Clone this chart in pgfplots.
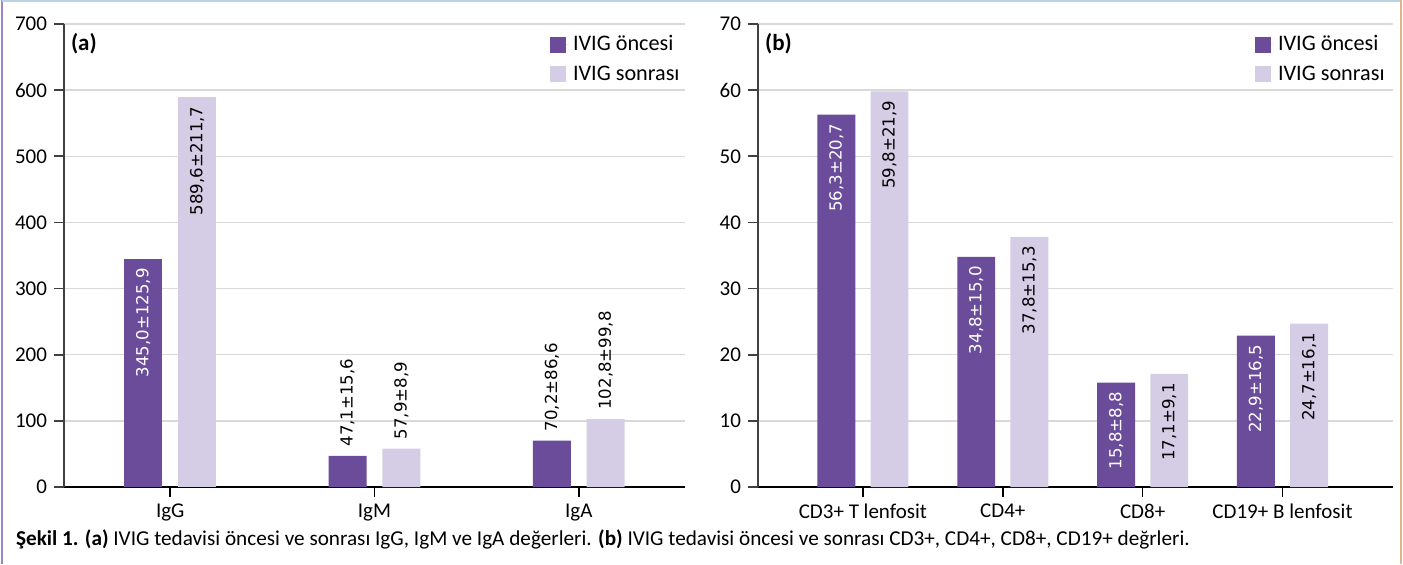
\documentclass[border=0pt]{standalone}
\usepackage{fontspec}
\setmainfont{Carlito}
\newfontfamily\lblfont{DejaVu Sans}
\usepackage{pgfplots}
\pgfplotsset{compat=1.18}
\definecolor{dk}{HTML}{6B4C9A}
\definecolor{lt}{HTML}{D5CCE5}
\definecolor{gridc}{HTML}{D9D9D9}
\definecolor{frL}{HTML}{9C84C6}
\definecolor{frT}{HTML}{B7D3E6}
\definecolor{frR}{HTML}{D8B98E}
\pgfplotsset{
  panel/.style={
    scale only axis,
    ymin=0,
    axis x line*=bottom, axis y line*=left,
    x axis line style={black, line width=0.8pt, -},
    y axis line style={black!75, line width=0.8pt, -},
    tick align=outside, major tick length=5pt,
    xtick style={black, line width=0.8pt},
    ytick style={black!75, line width=0.8pt},
    ymajorgrids, grid style={gridc, line width=0.7pt},
    ticklabel style={font=\fontsize{10.5}{12}\selectfont},
    /pgf/number format/assume math mode=true,
    ybar,
    legend style={at={(1,1)}, anchor=north east, yshift=-1.5pt, draw=none, fill=none,
      font=\fontsize{11.1}{13}\selectfont, row sep=2pt, inner sep=2pt},
    legend cell align=left,
    legend image code/.code={\fill[##1, draw=none] (0pt,-4pt) rectangle (8pt,4pt); \path (8pt,0) -- (9.5pt,0);},
  },
  inlbl/.style={nodes near coords={\pgfplotspointmeta}, point meta=explicit symbolic,
    every node near coord/.append style={rotate=90, anchor=east, inner xsep=4.5pt,
      font=\lblfont\fontsize{8.3}{10}\selectfont, text=#1}},
  uplbl/.style={nodes near coords={\pgfplotspointmeta}, point meta=explicit symbolic,
    every node near coord/.append style={rotate=90, anchor=west, inner xsep=4.5pt,
      font=\lblfont\fontsize{8.3}{10}\selectfont, text=black}},
}
\begin{document}
\begin{tikzpicture}
\useasboundingbox (0,0) rectangle (701.5pt,282pt);
\draw[frL, line width=1pt] (1pt,0) -- (1pt,282pt);
\draw[frT, line width=1pt] (1pt,281.5pt) -- (700.5pt,281.5pt);
\draw[frR, line width=1pt] (700.3pt,0) -- (700.3pt,282pt);

\begin{axis}[panel,
  at={(32pt,38.5pt)}, anchor=south west,
  width=310.5pt, height=231.5pt,
  xmin=-0.52, xmax=2.52, ymax=700, ytick={0,100,...,700},
  xtick={0,1,2}, xticklabels={IgG, IgM, IgA},
  bar width=0.186,
  legend style={xshift=1.5pt},
]
\addplot[fill=dk, draw=none, bar shift=-0.132, inlbl=white] coordinates {(0,345.0) [345,0±125,9]};
\addlegendentry{IVIG öncesi}
\addplot[fill=lt, draw=none, bar shift=0.132, inlbl=black] coordinates {(0,589.6) [589,6±211,7]};
\addlegendentry{IVIG sonrası}
\addplot[fill=dk, draw=none, bar shift=-0.132, uplbl, forget plot] coordinates {(1,47.1) [47,1±15,6] (2,70.2) [70,2±86,6]};
\addplot[fill=lt, draw=none, bar shift=0.132, uplbl, forget plot] coordinates {(1,57.9) [57,9±8,9] (2,102.8) [102,8±99,8]};
\node[anchor=west, font=\bfseries\fontsize{11.5}{13}\selectfont] at (axis description cs:0.0,0.957) {(a)};
\end{axis}

\begin{axis}[panel,
  at={(379pt,38.5pt)}, anchor=south west,
  width=317.5pt, height=231.5pt,
  xmin=-0.75, xmax=3.79, ymax=70, ytick={0,10,...,70},
  xtick={0,1,2,3}, xticklabels={CD3+ T lenfosit, CD4+, CD8+, CD19+ B lenfosit},
  bar width=0.271,
  legend style={xshift=0pt},
]
\addplot[fill=dk, draw=none, bar shift=-0.19, inlbl=white] coordinates {(0,56.3) [56,3±20,7] (1,34.8) [34,8±15,0] (2,15.8) [15,8±8,8] (3,22.9) [22,9±16,5]};
\addlegendentry{IVIG öncesi}
\addplot[fill=lt, draw=none, bar shift=0.19, inlbl=black] coordinates {(0,59.8) [59,8±21,9] (1,37.8) [37,8±15,3] (2,17.1) [17,1±9,1] (3,24.7) [24,7±16,1]};
\addlegendentry{IVIG sonrası}
\node[anchor=west, font=\bfseries\fontsize{11.5}{13}\selectfont] at (axis description cs:0.0,0.957) {(b)};
\end{axis}

\node[anchor=base west, font=\fontsize{10.6}{12}\selectfont] at (4.5pt,9.5pt)
  {\textbf{Şekil 1. (a)} IVIG tedavisi öncesi ve sonrası IgG, IgM ve IgA değerleri. \textbf{(b)} IVIG tedavisi öncesi ve sonrası CD3+, CD4+, CD8+, CD19+ değrleri.};
\end{tikzpicture}
\end{document}
